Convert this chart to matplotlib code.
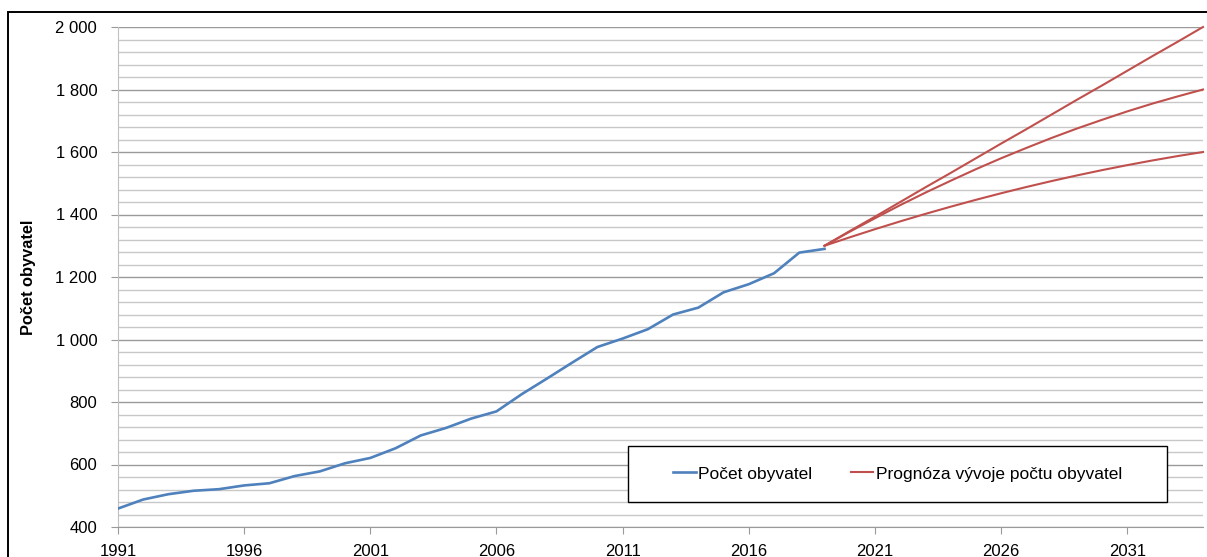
import matplotlib
matplotlib.use("Agg")
import matplotlib.pyplot as plt
import numpy as np
from matplotlib.patches import Rectangle
from matplotlib.ticker import FuncFormatter, MultipleLocator

plt.rcParams["font.family"] = ["Liberation Sans", "DejaVu Sans"]

# observed population 1991-2019
years_hist = np.arange(1991, 2020)
population = [459, 488, 505, 516, 521, 533, 540, 563, 578, 604, 621, 652, 693, 717,
              747, 770, 825, 875, 926, 976, 1003, 1033, 1080, 1102, 1151, 1177,
              1212, 1278, 1290]

# forecast variants 2019-2034
years_fc = np.arange(2019, 2035)
fc_high = [1300, 1347, 1393, 1440, 1487, 1533, 1580, 1627, 1673, 1720, 1767, 1813,
           1860, 1907, 1953, 2000]
fc_mid = [1300, 1345, 1388, 1430, 1470, 1508, 1545, 1580, 1613, 1645, 1675, 1703,
          1730, 1755, 1778, 1800]
fc_low = [1300, 1327, 1353, 1378, 1402, 1425, 1447, 1468, 1488, 1507, 1525, 1542,
          1558, 1573, 1587, 1600]

xticks = np.arange(1991, 2035, 5)

W, H = 1207, 557
fig = plt.figure(figsize=(W / 100, H / 100), dpi=100)
ax = fig.add_axes([118 / W, 1 - 527 / H, (1203 - 118) / W, 500 / H])

blue = "#4F81BD"
red = "#C0504D"

(l_hist,) = ax.plot(years_hist, population, color=blue, lw=1.9, zorder=3)
(l_fc,) = ax.plot(years_fc, fc_high, color=red, lw=1.5, zorder=3, clip_on=False)
ax.plot(years_fc, fc_mid, color=red, lw=1.5, zorder=3, clip_on=False)
ax.plot(years_fc, fc_low, color=red, lw=1.5, zorder=3, clip_on=False)

ax.set_xlim(1991, 2034)
ax.set_ylim(400, 2000)
ax.set_xticks(xticks)
ax.yaxis.set_major_locator(MultipleLocator(200))
ax.yaxis.set_minor_locator(MultipleLocator(40))
ax.yaxis.set_major_formatter(FuncFormatter(lambda v, p: f"{int(v):,}".replace(",", " ")))

ax.grid(axis="y", which="major", color="#9a9a9a", lw=1.0, zorder=1)
ax.grid(axis="y", which="minor", color="#c8c8c8", lw=1.0, zorder=1)
ax.tick_params(axis="y", which="minor", length=0)
ax.tick_params(axis="y", which="major", length=5, color="#9a9a9a", pad=10, labelsize=12)
ax.tick_params(axis="x", length=5, color="#9a9a9a", pad=7, labelsize=12)

for side in ["top", "right"]:
    ax.spines[side].set_visible(False)
ax.spines["left"].set_color("#c0c0c0")
ax.spines["bottom"].set_color("#9a9a9a")

ax.set_ylabel("Počet obyvatel", fontsize=11.8, fontweight="bold")
ax.yaxis.set_label_coords(-(118 - 36) / (1203 - 118), 0.5)

# outer chart border (cropped at right and bottom)
fig.patches.append(Rectangle((8 / W, -0.2), 1.2, 1 - 12 / H + 0.2,
                             transform=fig.transFigure, fill=False,
                             edgecolor="black", lw=1.4))

# legend box
bx, by, bw, bh = 628 / W, 1 - 502 / H, 539 / W, 56 / H
fig.patches.append(Rectangle((bx, by), bw, bh, transform=fig.transFigure,
                             facecolor="white", edgecolor="black", lw=1.0, zorder=5))
leg = fig.legend([l_hist, l_fc], ["Počet obyvatel", "Prognóza vývoje počtu obyvatel"],
                 loc="center", bbox_to_anchor=(bx + bw / 2, by + bh / 2),
                 ncol=2, frameon=False, fontsize=12.5, handlelength=1.3,
                 handletextpad=0.15, columnspacing=2.2)
leg.set_zorder(6)

fig.savefig("out.png", dpi=100)
